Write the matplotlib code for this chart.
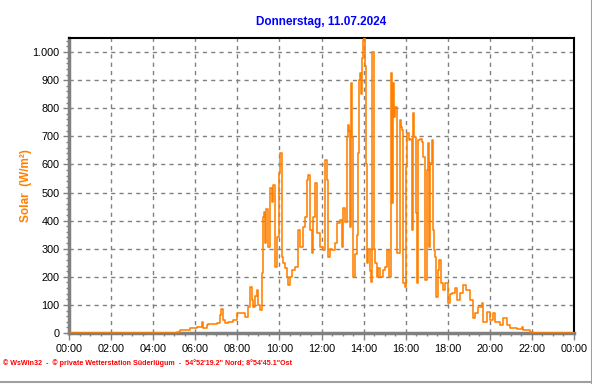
import matplotlib
matplotlib.use("Agg")
import matplotlib.pyplot as plt
from matplotlib.lines import Line2D
from matplotlib.ticker import MultipleLocator, FuncFormatter
import numpy as np

# minutes since midnight and solar radiation (W/m²)
minutes = [0, 299, 302, 308, 317, 339, 345, 365, 379, 382, 394, 396, 422, 431, 433,
           439, 445, 453, 468, 479, 488, 493, 502, 510, 516, 522, 525, 530, 536,
           539, 545, 550, 553, 556, 559, 562, 567, 573, 579, 582, 587, 593, 599,
           602, 607, 610, 616, 622, 625, 630, 636, 644, 653, 659, 667, 673, 679,
           682, 687, 693, 696, 702, 707, 716, 724, 730, 736, 739, 744, 750, 759,
           764, 773, 779, 781, 787, 793, 796, 798, 801, 804, 807, 810, 816, 821,
           824, 827, 830, 833, 836, 838, 841, 844, 847, 850, 853, 858, 861, 864,
           867, 870, 873, 878, 881, 887, 895, 901, 907, 913, 918, 921, 924, 927,
           930, 935, 938, 944, 947, 950, 952, 958, 961, 964, 970, 972, 978, 981,
           984, 990, 992, 995, 1001, 1007, 1010, 1015, 1021, 1024, 1027, 1029,
           1035, 1038, 1041, 1044, 1047, 1052, 1055, 1061, 1067, 1072, 1081,
           1086, 1092, 1101, 1106, 1115, 1124, 1132, 1138, 1144, 1152, 1158,
           1166, 1178, 1181, 1192, 1201, 1209, 1215, 1229, 1238, 1249, 1258,
           1278, 1292, 1295, 1315, 1323, 1440]
solar = [0, 0, 0, 5, 11, 11, 18, 21, 39, 18, 28, 32, 35, 64, 85,
         46, 35, 39, 46, 71, 70, 71, 57, 93, 164, 117, 93, 130, 153,
         100, 82, 213, 413, 430, 320, 440, 306, 516, 466, 527, 235, 342, 569,
         640, 270, 249, 230, 199, 171, 200, 224, 235, 367, 306, 377, 413, 545,
         562, 367, 285, 413, 534, 356, 306, 295, 616, 545, 270, 300, 295, 320,
         391, 402, 306, 445, 395, 698, 740, 720, 377, 890, 698, 199, 280, 349,
         640, 900, 925, 850, 979, 1043, 1050, 950, 600, 250, 300, 220, 180, 1000,
         1000, 300, 250, 200, 230, 200, 224, 235, 295, 199, 925, 463, 890, 770,
         804, 285, 285, 758, 733, 722, 178, 164, 591, 712, 687, 690, 367, 783,
         698, 427, 178, 687, 690, 680, 626, 189, 580, 676, 306, 605,
         687, 367, 295, 270, 128, 224, 260, 178, 153, 178, 107,
         140, 142, 160, 117, 142, 171, 153, 153, 117, 53, 71,
         93, 107, 39, 75, 46, 71, 39, 28, 53, 28, 18,
         14, 21, 11, 4, 0, 0]

hour_labels = ["00:00", "02:00", "04:00", "06:00", "08:00", "10:00", "12:00",
               "14:00", "16:00", "18:00", "20:00", "22:00", "00:00"]

title = "Donnerstag, 11.07.2024"
footer = "\u00a9 WsWin32  -  \u00a9 private Wetterstation S\u00fcderl\u00fcgum  -  54\u00b052'19.2\" Nord; 8\u00b054'45.1\"Ost"

plt.rcParams['font.family'] = ['Liberation Sans', 'DejaVu Sans']

fig = plt.figure(figsize=(5.92, 3.84), dpi=100)
ax = fig.add_axes([69/592, 1-333/384, 505/592, 295/384])

hours = np.array(minutes) / 60.0
ax.plot(hours, solar, color='#FF8000', linewidth=1.15, drawstyle='steps-post',
        clip_on=True, zorder=3)

ax.set_xlim(0, 24)
ax.set_ylim(0, 1050)

ax.set_xticks(np.arange(0, 25, 2))
ax.set_xticklabels(hour_labels)
ax.xaxis.set_minor_locator(MultipleLocator(0.5))
ax.yaxis.set_major_locator(MultipleLocator(100))
ax.yaxis.set_minor_locator(MultipleLocator(20))
ax.yaxis.set_major_formatter(FuncFormatter(lambda v, p: f"{int(v):,}".replace(",", ".")))

ax.grid(True, which='major', color='#808080', linestyle=(0, (3, 3)), linewidth=1.0)
ax.set_axisbelow(True)

ax.tick_params(which='major', direction='out', length=4, width=1, color='#808080',
               labelsize=7.8, pad=3)
ax.tick_params(which='minor', direction='out', length=2.5, width=1, color='#808080')
ax.tick_params(axis='x', which='major', length=5)

for side in ['left', 'bottom']:
    ax.spines[side].set_color('#808080')
    ax.spines[side].set_linewidth(2.5)
for side in ['top', 'right']:
    ax.spines[side].set_color('black')
    ax.spines[side].set_linewidth(1.5)

ax.set_ylabel("Solar  (W/m\u00b2)", color='#FF8000', fontweight='bold', fontsize=8.5)
ax.yaxis.set_label_coords(-0.074, 0.5)

fig.text(321/592, 1-22/384, title, color='#0000FF', fontweight='bold', fontsize=8.5,
         ha='center', va='center')
fig.text(3/592, 1-363/384, footer, color='#FF0000', fontweight='bold', fontsize=5.1,
         ha='left', va='center')

# light border on the right and bottom edges of the picture
fig.add_artist(Line2D([591.5/592, 591.5/592], [0, 1], color='#A0A0A0', linewidth=1.5))
fig.add_artist(Line2D([0, 1], [1-382/384, 1-382/384], color='#A0A0A0', linewidth=1.5))

fig.savefig("out.png", dpi=100)
